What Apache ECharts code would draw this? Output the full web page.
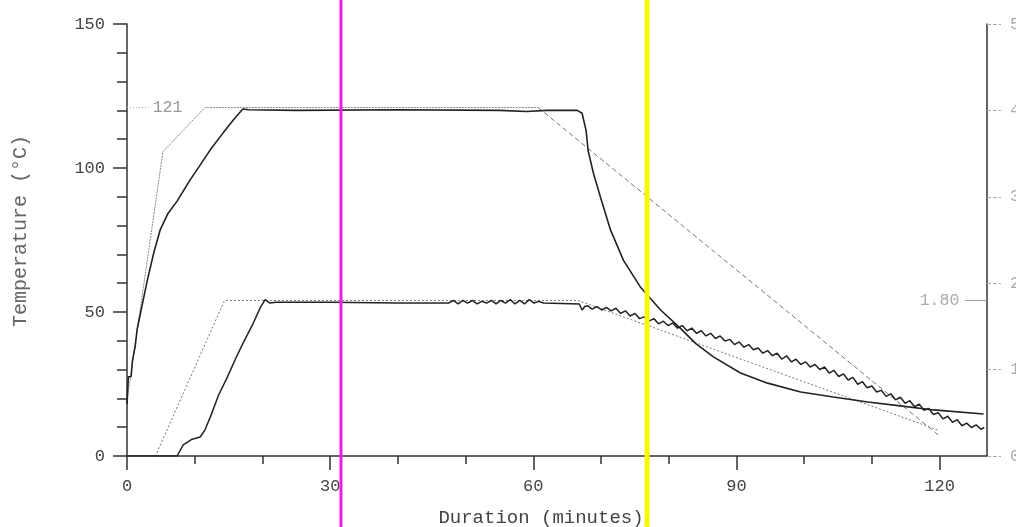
<!DOCTYPE html>
<html>
<head>
<meta charset="utf-8">
<script src="https://cdn.jsdelivr.net/npm/echarts@6/dist/echarts.min.js"></script>
<style>html,body{margin:0;padding:0;background:#fff;}#c{width:1016px;height:527px;}</style>
</head>
<body>
<div id="c"></div>
<script>
// ---- tick values / labels ----
const xMajorTicks = [0, 30, 60, 90, 120];
const xMinorTicks = [10, 20, 40, 50, 70, 80, 100, 110];
const yMajorTicks = [0, 50, 100, 150];
const yMinorTicks = [10, 20, 30, 40, 60, 70, 80, 90, 110, 120, 130, 140];
const rightTicks = [0, 1, 2, 3, 4, 5];

// ---- temperature (°C), left axis ----
const tempSetRamp = [[0, 19], [5.3, 105.6], [11.5, 121], [60.7, 121]];
const tempSetCool = [[60.7, 121], [119.8, 7.3]];
const tempActual = [
  [0, 18], [0.2, 27.5], [0.6, 27.5], [0.8, 33], [1.2, 38], [1.5, 44], [2.2, 52], [3, 61],
  [4, 71], [4.9, 78.5], [6, 84], [7.4, 88.5], [9.3, 95.8], [10.8, 101], [12.3, 106.3],
  [14.2, 112.2], [15.7, 116.7], [17.1, 120.5], [18, 120.2], [25, 120], [40, 120.2],
  [55, 120], [59, 119.6], [62, 120], [66.5, 120], [67.2, 119], [67.8, 113], [68.1, 106],
  [68.9, 98], [69.9, 90], [71.4, 78.5], [73.3, 68], [75.8, 58.7], [78.8, 50.7],
  [81.7, 44.4], [84, 39], [86.6, 34.4], [90.6, 28.8], [94.6, 25.3], [99.5, 22.2],
  [104.3, 20.5], [109.4, 18.75], [114.2, 17.4], [119.1, 16], [126.5, 14.6]
];

// ---- pressure, right axis ----
const presSet = [[0, 0], [4.2, 0], [14.4, 1.80], [66.6, 1.80], [119.8, 0.30]];
const presActual = [
  [0, 0], [7.4, 0], [8.3, 0.13], [9.5, 0.19], [10.8, 0.22], [11.5, 0.3], [12.3, 0.45],
  [13.5, 0.7], [14.8, 0.91], [16, 1.12], [17.1, 1.3], [18.6, 1.53], [19.7, 1.72],
  [20.4, 1.81], [21.1, 1.77], [22, 1.78], [30, 1.78], [40, 1.77], [47.5, 1.77],
  [48.2, 1.80], [48.9, 1.76], [49.6, 1.80], [50.3, 1.77], [51, 1.80], [51.7, 1.76],
  [52.4, 1.79], [53.1, 1.77], [53.8, 1.80], [54.5, 1.76], [55.2, 1.80], [55.9, 1.77],
  [56.6, 1.81], [57.3, 1.76], [58, 1.80], [58.7, 1.76], [59.4, 1.81], [60.1, 1.77],
  [60.8, 1.79], [61.5, 1.77], [66.8, 1.76], [67.2, 1.69], [67.6, 1.73],
  [68.0, 1.74], [68.7, 1.70], [69.4, 1.73], [70.1, 1.69], [70.8, 1.72], [71.5, 1.68],
  [72.2, 1.71], [72.9, 1.65], [73.6, 1.68], [74.3, 1.62], [75.0, 1.65], [75.7, 1.59],
  [76.4, 1.61], [77.1, 1.56], [77.8, 1.59], [78.5, 1.53], [79.2, 1.56], [79.9, 1.51],
  [80.6, 1.54], [81.3, 1.48], [82.0, 1.51], [82.7, 1.45], [83.4, 1.48], [84.1, 1.42],
  [84.8, 1.45], [85.5, 1.39], [86.2, 1.42], [86.9, 1.36], [87.6, 1.39], [88.3, 1.33],
  [89.0, 1.35], [89.7, 1.29], [90.4, 1.32], [91.1, 1.26], [91.8, 1.29], [92.5, 1.23],
  [93.2, 1.25], [93.9, 1.19], [94.6, 1.22], [95.3, 1.16], [96.0, 1.19], [96.7, 1.12],
  [97.4, 1.16], [98.1, 1.09], [98.8, 1.12], [99.5, 1.06], [100.2, 1.09], [100.9, 1.03],
  [101.6, 1.06], [102.3, 1.00], [103.0, 1.03], [103.7, 0.96], [104.4, 0.99], [105.1, 0.92],
  [105.8, 0.95], [106.5, 0.88], [107.2, 0.91], [107.9, 0.83], [108.6, 0.86], [109.3, 0.79],
  [110.0, 0.81], [110.7, 0.74], [111.4, 0.76], [112.1, 0.69], [112.8, 0.72], [113.5, 0.65],
  [114.2, 0.68], [114.9, 0.61], [115.6, 0.64], [116.3, 0.57], [117.0, 0.60], [117.7, 0.53],
  [118.4, 0.55], [119.1, 0.48], [119.8, 0.50], [120.5, 0.43], [121.2, 0.46], [121.9, 0.39],
  [122.6, 0.42], [123.3, 0.35], [124.0, 0.38], [124.7, 0.33], [125.4, 0.36], [126.1, 0.31],
  [126.6, 0.33]
];

// ---- annotations ----
const setTempMark = [[0, 121], [3.2, 121]];
const setPresMark = [[123.8, 1.80], [127, 1.80]];
const magentaAt = 31.6;
const yellowAt = 76.8;

const MONO = "'Liberation Mono', 'DejaVu Sans Mono', monospace";
const axisColor = '#333';

const chart = echarts.init(document.getElementById('c'), null, {renderer: 'canvas'});
chart.setOption({
  animation: false,
  backgroundColor: '#fff',
  grid: [
    {left: 127, right: 29, top: 24, bottom: 71, containLabel: false, outerBoundsMode: 'none'},
    {left: 127, right: 29, top: 0, bottom: 0, containLabel: false, outerBoundsMode: 'none'}
  ],
  xAxis: [
    {gridIndex: 0, type: 'value', min: 0, max: 127, position: 'bottom',
     axisLine: {onZero: false, lineStyle: {color: axisColor, width: 1.5}},
     axisTick: {customValues: xMajorTicks, length: 14, lineStyle: {color: axisColor, width: 1.5}},
     axisLabel: {customValues: xMajorTicks, margin: 22, fontFamily: MONO, fontSize: 17, color: '#444'},
     splitLine: {show: false},
     name: 'Duration (minutes)', nameLocation: 'middle', nameGap: 52,
     nameTextStyle: {fontFamily: MONO, fontSize: 19, color: '#444', padding: [0, 32, 0, 0]}},
    {gridIndex: 0, type: 'value', min: 0, max: 127, position: 'bottom',
     axisLine: {show: false},
     axisTick: {customValues: xMinorTicks, length: 8, lineStyle: {color: axisColor, width: 1.5}},
     axisLabel: {show: false}, splitLine: {show: false}},
    {gridIndex: 1, type: 'value', min: 0, max: 127, show: false}
  ],
  yAxis: [
    {gridIndex: 0, type: 'value', min: 0, max: 150, position: 'left',
     axisLine: {show: true, onZero: false, lineStyle: {color: axisColor, width: 1.5}},
     axisTick: {show: true, customValues: yMajorTicks, length: 14, lineStyle: {color: axisColor, width: 1.5}},
     axisLabel: {customValues: yMajorTicks, margin: 22, fontFamily: MONO, fontSize: 17, color: '#444'},
     splitLine: {show: false},
     name: 'Temperature (°C)', nameLocation: 'middle', nameGap: 96, nameRotate: 90,
     nameTextStyle: {fontFamily: MONO, fontSize: 20, color: '#666', padding: [0, 0, 0, 18]}},
    {gridIndex: 0, type: 'value', min: 0, max: 150, position: 'left',
     axisLine: {show: false},
     axisTick: {show: true, customValues: yMinorTicks, length: 10, lineStyle: {color: axisColor, width: 1.5}},
     axisLabel: {show: false}, splitLine: {show: false}},
    {gridIndex: 0, type: 'value', min: 0, max: 5, interval: 1, position: 'right',
     axisLine: {show: true, onZero: false, lineStyle: {color: axisColor, width: 1.5}},
     axisTick: {show: true, customValues: rightTicks, length: 14, lineStyle: {color: '#aaa', width: 1, type: [4, 2]}},
     axisLabel: {customValues: rightTicks, margin: 23, fontFamily: MONO, fontSize: 17, color: '#aaa'},
     splitLine: {show: false}},
    {gridIndex: 1, type: 'value', min: 0, max: 1, show: false}
  ],
  series: [
    {name: 'Temp setpoint', type: 'line', xAxisIndex: 0, yAxisIndex: 0, data: tempSetRamp,
     symbol: 'none', lineStyle: {color: '#888', width: 1, type: [2, 1]}, z: 2},
    {name: 'Temp setpoint cool', type: 'line', xAxisIndex: 0, yAxisIndex: 0, data: tempSetCool,
     symbol: 'none', lineStyle: {color: '#777', width: 1, type: [5, 3]}, z: 2},
    {name: 'Pressure setpoint', type: 'line', xAxisIndex: 0, yAxisIndex: 2, data: presSet,
     symbol: 'none', lineStyle: {color: '#777', width: 1, type: [2, 2]}, z: 2},
    {name: 'Temperature', type: 'line', xAxisIndex: 0, yAxisIndex: 0, data: tempActual,
     symbol: 'none', lineStyle: {color: '#222', width: 1.6}, z: 3},
    {name: 'Pressure', type: 'line', xAxisIndex: 0, yAxisIndex: 2, data: presActual,
     symbol: 'none', lineStyle: {color: '#222', width: 1.5}, z: 3},
    {name: '121', type: 'line', xAxisIndex: 0, yAxisIndex: 0,
     data: [setTempMark[0], {value: setTempMark[1], label: {show: true, formatter: '121', position: 'right', distance: 4,
       fontFamily: MONO, fontSize: 16.5, color: '#999'}}],
     symbol: 'circle', symbolSize: 0.1, showSymbol: true, itemStyle: {color: 'rgba(0,0,0,0)'},
     lineStyle: {color: '#aaa', width: 1, type: [1, 2]}, z: 2},
    {name: '1.80', type: 'line', xAxisIndex: 0, yAxisIndex: 2,
     data: [{value: setPresMark[0], label: {show: true, formatter: '1.80', position: 'left', distance: 6,
       fontFamily: MONO, fontSize: 16.5, color: '#aaa'}}, setPresMark[1]],
     symbol: 'circle', symbolSize: 0.1, showSymbol: true, itemStyle: {color: 'rgba(0,0,0,0)'},
     lineStyle: {color: '#999', width: 1}, z: 2},
    {name: 'marker1', type: 'line', xAxisIndex: 2, yAxisIndex: 3,
     data: [[magentaAt, 0], [magentaAt, 1]], symbol: 'none',
     lineStyle: {color: '#ec1ee6', width: 3}, z: 10},
    {name: 'marker2', type: 'line', xAxisIndex: 2, yAxisIndex: 3,
     data: [[yellowAt, 0], [yellowAt, 1]], symbol: 'none',
     lineStyle: {color: '#fbf700', width: 5}, z: 10}
  ]
});
</script>
</body>
</html>
